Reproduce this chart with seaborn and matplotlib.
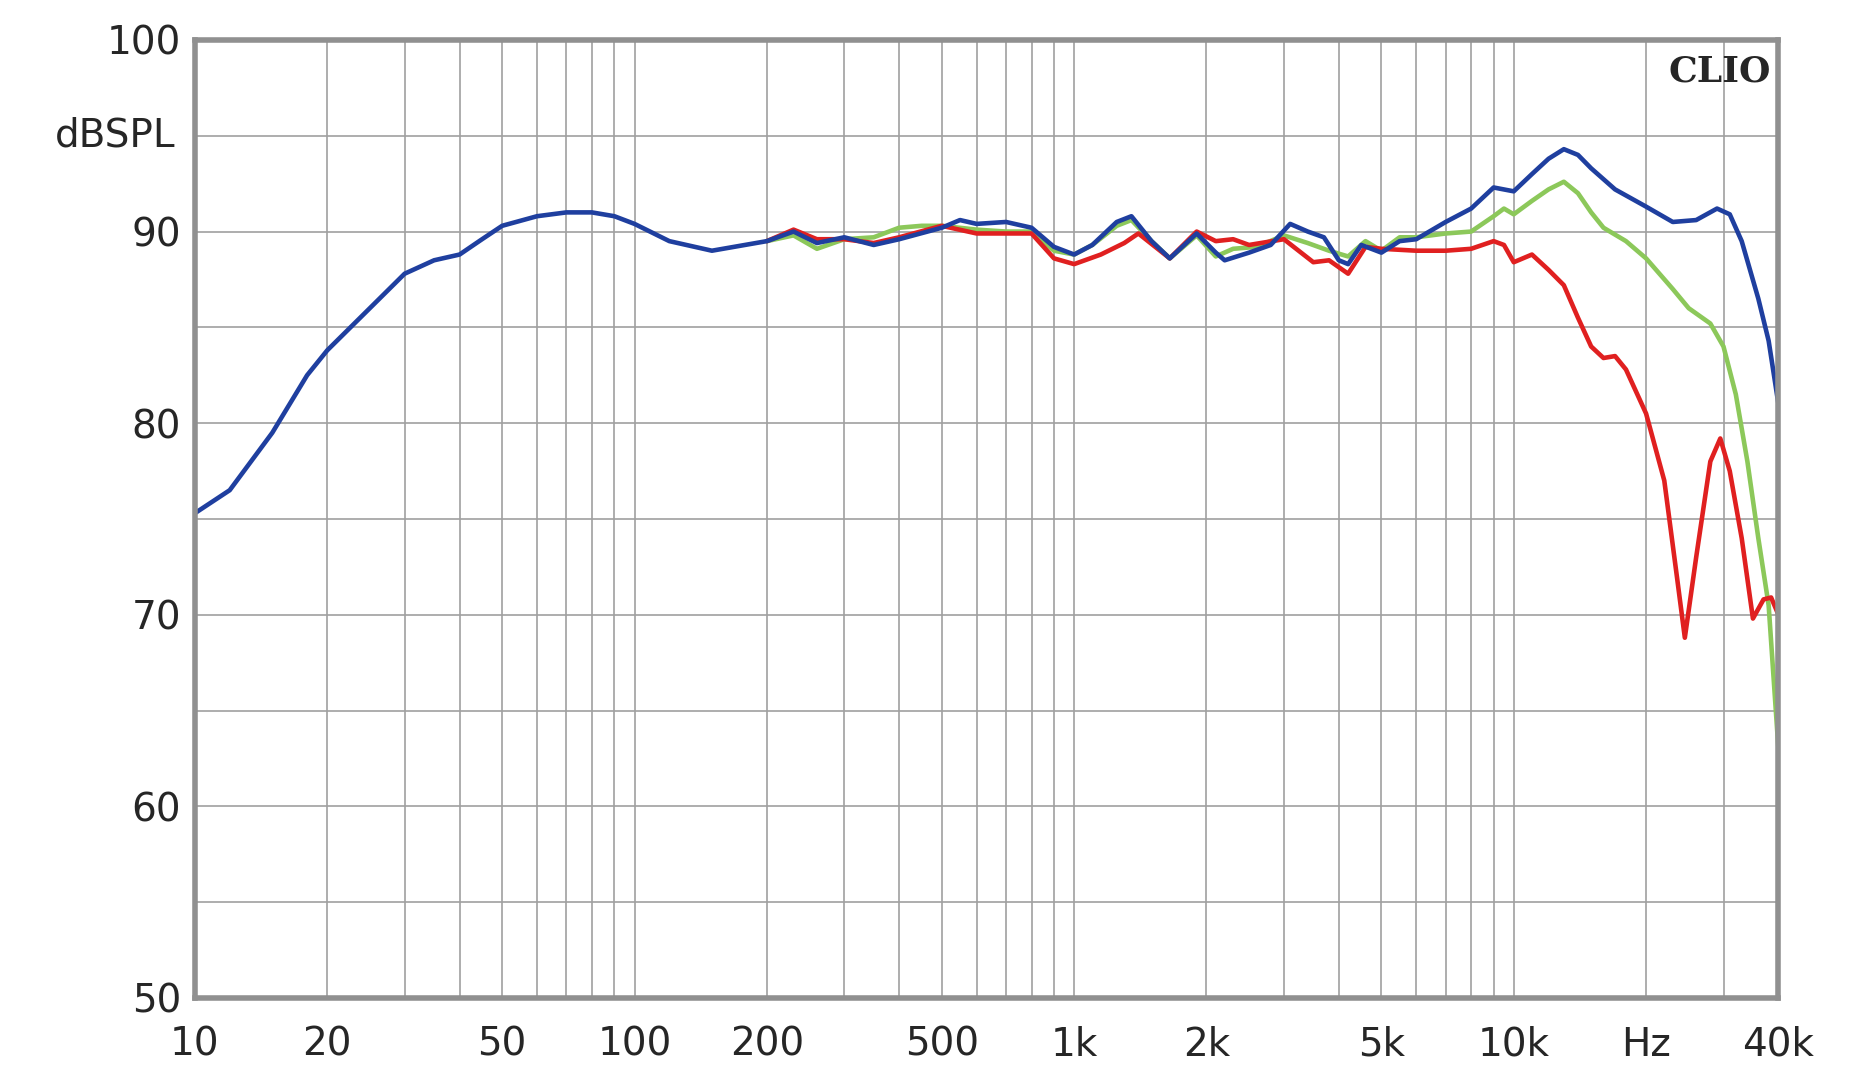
import matplotlib
matplotlib.use("Agg")
import matplotlib.pyplot as plt
import seaborn as sns
import pandas as pd
import numpy as np

blue_f = [10,12,15,18,20,25,30,35,40,45,50,60,70,80,90,100,120,150,200,230,260,300,350,400,500,550,600,700,800,900,1000,1100,1250,1350,1500,1650,1900,2100,2200,2500,2800,3100,3400,3700,4000,4200,4500,5000,5500,6000,7000,8000,9000,10000,11000,12000,13000,14000,15000,17000,20000,23000,26000,29000,31000,33000,36000,38000,40000]
blue_db = [75.3,76.5,79.5,82.5,83.8,86,87.8,88.5,88.8,89.6,90.3,90.8,91,91,90.8,90.4,89.5,89,89.5,90,89.4,89.7,89.3,89.6,90.2,90.6,90.4,90.5,90.2,89.2,88.8,89.3,90.5,90.8,89.5,88.6,89.9,88.9,88.5,88.9,89.3,90.4,90,89.7,88.5,88.3,89.3,88.9,89.5,89.6,90.5,91.2,92.3,92.1,93,93.8,94.3,94,93.3,92.2,91.3,90.5,90.6,91.2,90.9,89.5,86.5,84.3,81]

green_f = [200,230,260,300,350,400,450,500,600,700,800,900,1000,1100,1250,1350,1500,1650,1900,2100,2300,2600,3000,3400,3800,4200,4600,5000,5500,6000,7000,8000,9000,9500,10000,11000,12000,13000,14000,15000,16000,18000,20000,23000,25000,28000,30000,32000,34000,36000,38000,40000]
green_db = [89.5,89.8,89.1,89.6,89.7,90.2,90.3,90.3,90.1,90.0,90.0,89.0,88.8,89.3,90.3,90.6,89.5,88.6,89.8,88.7,89.1,89.2,89.8,89.4,89.0,88.7,89.5,89.0,89.7,89.7,89.9,90.0,90.8,91.2,90.9,91.6,92.2,92.6,92.0,91.0,90.2,89.5,88.6,87.0,86.0,85.2,84.0,81.5,78.0,74.0,70.5,63.0]

red_f = [200,230,260,300,350,400,500,600,800,900,1000,1150,1300,1400,1650,1900,2100,2300,2500,3000,3500,3800,4200,4600,5000,6000,7000,8000,9000,9500,10000,11000,12000,13000,14000,15000,16000,17000,18000,20000,22000,23500,24500,26000,28000,29500,31000,33000,35000,37000,38500,40000]
red_db = [89.5,90.1,89.6,89.6,89.4,89.7,90.3,89.9,89.9,88.6,88.3,88.8,89.4,89.9,88.6,90,89.5,89.6,89.3,89.6,88.4,88.5,87.8,89.2,89.1,89,89,89.1,89.5,89.3,88.4,88.8,88,87.2,85.5,84,83.4,83.5,82.8,80.5,77,72,68.8,73,78,79.2,77.5,74,69.8,70.8,70.9,70]

xtick_vals = [10,20,50,100,200,500,1000,2000,5000,10000,20000,40000]
xtick_labels = ["10","20","50","100","200","500","1k","2k","5k","10k","Hz","40k"]
ytick_vals = [50,60,70,80,90,100]

df = pd.concat([
    pd.DataFrame({"f": green_f, "db": green_db, "s": "green"}),
    pd.DataFrame({"f": red_f, "db": red_db, "s": "red"}),
    pd.DataFrame({"f": blue_f, "db": blue_db, "s": "blue"}),
])

sns.set_style("white")
fig = plt.figure(figsize=(18.74, 10.8), dpi=100)
ax = fig.add_axes([0.104, 0.076, 0.845, 0.887])
palette = {"green": "#8cc85a", "red": "#e02020", "blue": "#1f3f9f"}
sns.lineplot(data=df, x="f", y="db", hue="s", palette=palette, sort=False,
             estimator=None, linewidth=3.3, legend=False, ax=ax)
ax.set_xscale("log")
ax.set_xlim(10, 40000)
ax.set_ylim(50, 100)
ax.set_xticks(xtick_vals)
ax.set_xticklabels(xtick_labels)
minors = [m * 10**e for e in range(1, 5) for m in range(1, 10) if m * 10**e <= 40000]
ax.set_xticks(minors, minor=True)
ax.set_xticklabels([], minor=True)
ax.set_yticks(ytick_vals)
ax.set_yticks(np.arange(50, 101, 5), minor=True)
ax.grid(True, which="both", color="#a0a0a0", linewidth=1.2)
ax.tick_params(which="both", length=0, labelsize=28, pad=10)
ax.tick_params(axis="x", pad=20)
ax.set_xlabel("")
ax.set_ylabel("")
for s in ax.spines.values():
    s.set_color("#909090")
    s.set_linewidth(4)
ax.text(-0.012, 95, "dBSPL", transform=ax.get_yaxis_transform(), ha="right",
        va="center", fontsize=28)
ax.text(0.995, 0.985, "CLIO", transform=ax.transAxes, ha="right", va="top",
        fontsize=26, fontweight="bold", family="DejaVu Serif")
fig.savefig("out.png", dpi=100)
